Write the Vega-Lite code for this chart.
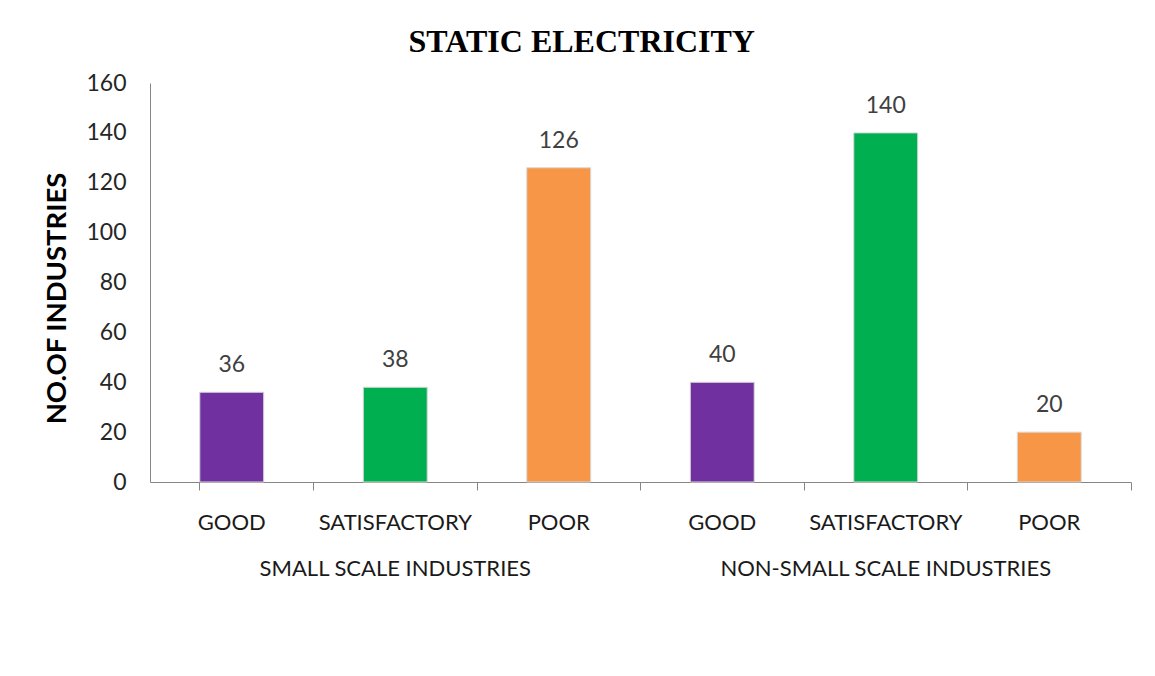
{
  "$schema": "https://vega.github.io/schema/vega-lite/v6.json",
  "width": 981,
  "height": 399,
  "autosize": {"type": "none"},
  "padding": {"left": 150, "top": 83, "right": 24, "bottom": 194},
  "background": "white",
  "title": {
    "text": "STATIC ELECTRICITY",
    "font": "Liberation Serif",
    "fontSize": 32,
    "fontWeight": "bold",
    "color": "#000000",
    "anchor": "middle",
    "frame": "bounds",
    "dx": -6,
    "offset": 13
  },
  "data": {
    "values": [
      {"key": "1|GOOD", "rating": "GOOD", "count": 36},
      {"key": "2|SATISFACTORY|SMALL SCALE INDUSTRIES\u00a0\u00a0\u00a0\u00a0\u00a0\u00a0\u00a0\u00a0", "rating": "SATISFACTORY", "count": 38},
      {"key": "3|POOR", "rating": "POOR", "count": 126},
      {"key": "4|GOOD", "rating": "GOOD", "count": 40},
      {"key": "5|SATISFACTORY|NON-SMALL SCALE INDUSTRIES", "rating": "SATISFACTORY", "count": 140},
      {"key": "6|POOR", "rating": "POOR", "count": 20}
    ]
  },
  "encoding": {
    "x": {
      "field": "key",
      "type": "nominal",
      "sort": null,
      "scale": {"paddingInner": 0.609, "paddingOuter": 0.3045},
      "axis": {
        "title": null,
        "labelAngle": 0,
        "labelExpr": "slice(split(datum.value, '|'), 1)",
        "labelFont": "Lato",
        "labelFontSize": 22,
        "labelColor": "#1a1a1a",
        "labelPadding": 22,
        "labelLineHeight": 46,
        "labelBaseline": "top",
        "labelLimit": 0,
        "labelOverlap": false,
        "domainColor": "#868686",
        "tickColor": "#868686",
        "tickSize": 8,
        "bandPosition": 1.7788,
        "tickExtra": true,
        "grid": false
      }
    },
    "y": {
      "field": "count",
      "type": "quantitative",
      "scale": {"domain": [0, 160], "nice": false},
      "axis": {
        "title": "NO.OF INDUSTRIES",
        "titleFont": "Lato",
        "titleFontSize": 27.5,
        "titleFontWeight": "bold",
        "titleColor": "#000000",
        "titlePadding": 14,
        "titleY": 215,
        "values": [0, 20, 40, 60, 80, 100, 120, 140, 160],
        "labelFont": "Lato",
        "labelFontSize": 23,
        "labelColor": "#262626",
        "labelPadding": 24,
        "ticks": false,
        "domainColor": "#868686",
        "grid": false
      }
    }
  },
  "layer": [
    {
      "mark": {"type": "bar", "stroke": "#d9d9d9", "strokeWidth": 1},
      "encoding": {
        "color": {
          "field": "rating",
          "type": "nominal",
          "scale": {"domain": ["GOOD", "SATISFACTORY", "POOR"], "range": ["#7030A0", "#00B050", "#F79646"]},
          "legend": null
        }
      }
    },
    {
      "mark": {"type": "text", "font": "Lato", "fontSize": 23, "color": "#404040", "baseline": "middle", "dy": -27},
      "encoding": {
        "text": {"field": "count", "type": "quantitative"}
      }
    }
  ],
  "config": {
    "view": {"stroke": null}
  }
}
